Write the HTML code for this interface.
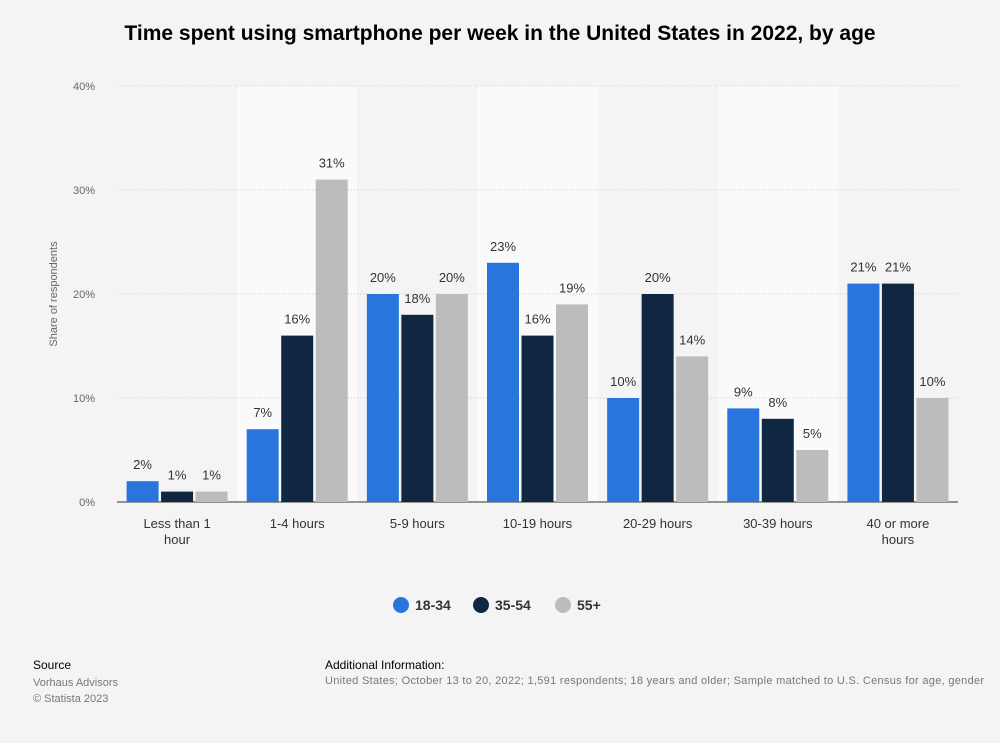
<!DOCTYPE html>
<html><head><meta charset="utf-8"><style>
body{margin:0;width:1000px;height:743px;background:#f4f4f4;font-family:"Liberation Sans",sans-serif;overflow:hidden;position:relative}
.t{position:absolute;white-space:nowrap}
</style></head><body>
<div class="t" style="left:0;width:1000px;text-align:center;top:22px;font-size:21px;font-weight:bold;color:#000">Time spent using smartphone per week in the United States in 2022, by age</div>
<svg id="c" width="1000" height="743" style="position:absolute;left:0;top:0"></svg>
<div class="t" style="left:33px;top:658px;font-size:12px;color:#000">Source</div>
<div class="t" style="left:33px;top:675px;font-size:11px;color:#777;line-height:16px">Vorhaus Advisors<br>© Statista 2023</div>
<div class="t" style="left:325px;top:658px;font-size:12px;color:#000">Additional Information:</div>
<div class="t" style="left:325px;top:675px;font-size:11px;color:#777;letter-spacing:0.3px">United States; October 13 to 20, 2022; 1,591 respondents; 18 years and older; Sample matched to U.S. Census for age, gender</div>
<script>
const categories=["Less than 1|hour","1-4 hours","5-9 hours","10-19 hours","20-29 hours","30-39 hours","40 or more|hours"];
const s1834=[2,7,20,23,10,9,21];
const s3554=[1,16,18,16,20,8,21];
const s55=[1,31,20,19,14,5,10];
const ticks=[0,10,20,30,40];
const seriesNames=["18-34","35-54","55+"];
const colors=["#2876dd","#0f2741","#bcbcbc"];
const svg=document.getElementById('c');const NS="http://www.w3.org/2000/svg";
const x0=117,x1=958,y0=502,yTop=86;
const y=v=>y0-(v/40)*(y0-yTop);
const gw=(x1-x0)/categories.length;
function mk(t,a,txt){const e=document.createElementNS(NS,t);for(const k in a)e.setAttribute(k,a[k]);if(txt!==undefined)e.textContent=txt;svg.appendChild(e);return e;}
categories.forEach((c,i)=>{if(i%2==1){const r=mk('rect',{x:x0+i*gw,y:yTop,width:gw,height:y0-yTop,fill:'#fafafa'});

}});
ticks.forEach(t=>{if(t>0){const l=mk('line',{x1:x0,x2:x1,y1:y(t),y2:y(t),stroke:'#cfcfcf','stroke-dasharray':'1,2'});

}
const tx=mk('text',{x:95,y:y(t)+4,'text-anchor':'end','font-size':11,fill:'#666'},t+'%');

});
const ax=mk('line',{x1:x0,x2:x1,y1:y0,y2:y0,stroke:'#333','stroke-width':1});


const yt=mk('text',{x:57,y:294,transform:'rotate(-90 57 294)','text-anchor':'middle','font-size':11,fill:'#666'},'Share of respondents');


const series=[s1834,s3554,s55];const bw=32,gap=2.5;
categories.forEach((c,i)=>{const cx=x0+i*gw+gw/2;
series.forEach((s,j)=>{const bx=cx-1.5*bw-gap+j*(bw+gap);
const r=mk('rect',{x:bx,y:y(s[i]),width:bw,height:y0-y(s[i]),fill:colors[j]});


const lb=mk('text',{x:bx+bw/2,y:y(s[i])-12,'text-anchor':'middle','font-size':13,fill:'#333'},s[i]+'%');

});
c.split('|').forEach((ln,k)=>{const t=mk('text',{x:cx,y:528+k*16,'text-anchor':'middle','font-size':13,fill:'#333'},ln);

});});
const lx=[401,481,563];
seriesNames.forEach((n,j)=>{const ci=mk('circle',{cx:lx[j],cy:605,r:8,fill:colors[j]});


const t=mk('text',{x:lx[j]+14,y:610,'font-size':14,'font-weight':'bold',fill:'#333'},n);

});
</script>
</body></html>
